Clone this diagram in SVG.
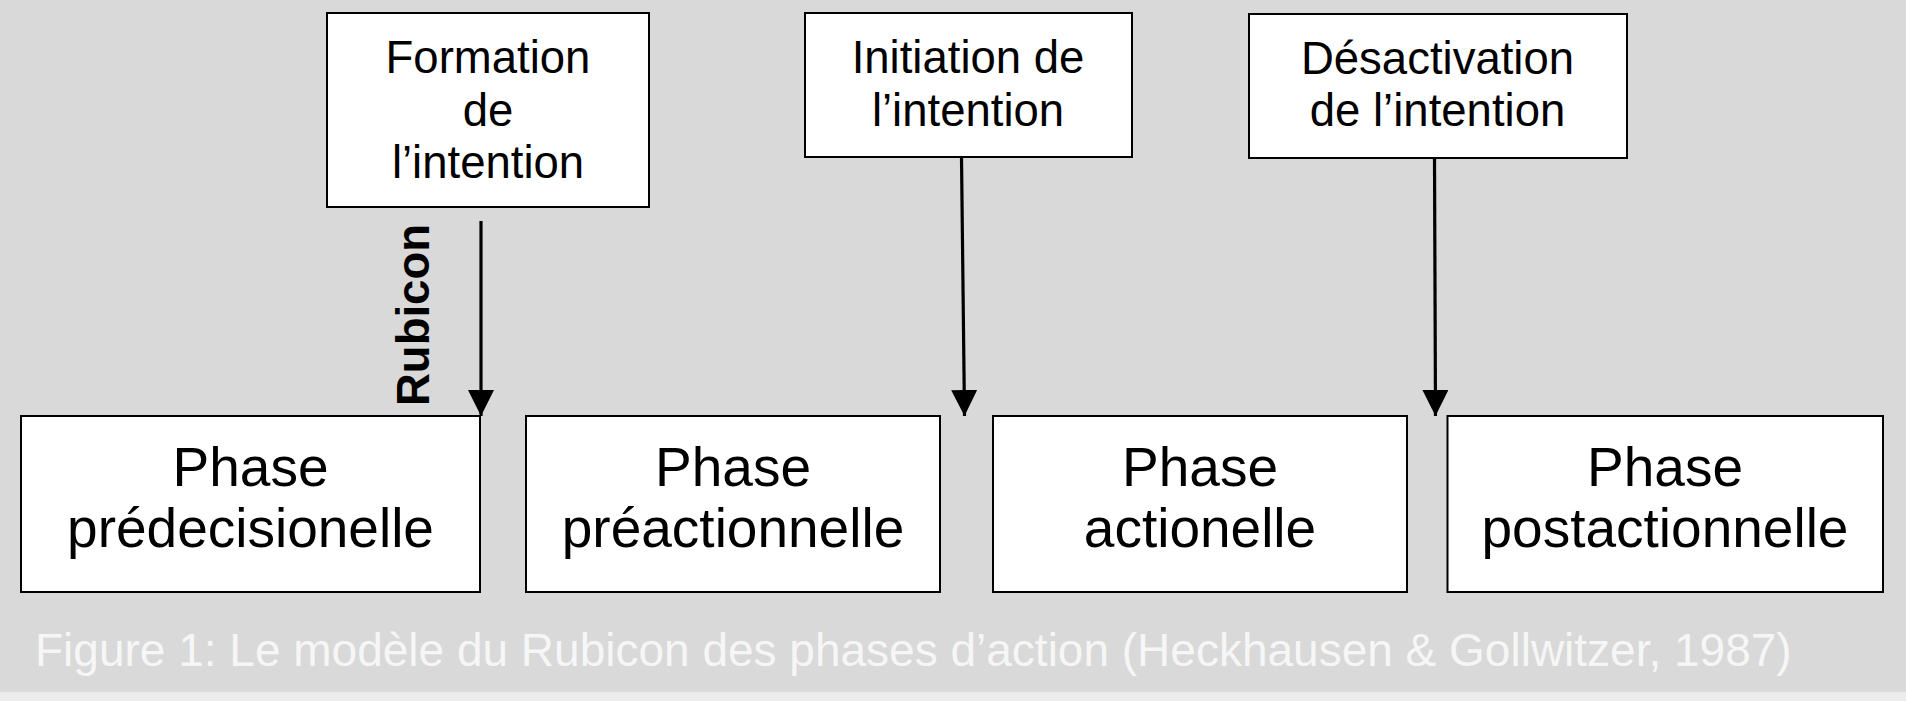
<svg xmlns="http://www.w3.org/2000/svg" width="1906" height="701" viewBox="0 0 1906 701">
<defs>
<style>
.box{fill:#ffffff;stroke:#000000;stroke-width:2}
.t{font-family:"Liberation Sans",Arial,sans-serif;fill:#000000;text-anchor:middle}
.top{font-size:45.5px}
.ph{font-size:55px}
.conn{stroke:#000000;stroke-width:3.2;fill:none;marker-end:url(#ah)}
.cap{font-family:"Liberation Sans",Arial,sans-serif;font-size:46px;fill:#f6f6f6}
.rub{font-family:"Liberation Sans",Arial,sans-serif;font-size:45.5px;font-weight:bold;fill:#000000;text-anchor:middle}
</style>
<marker id="ah" viewBox="0 0 10 10" refX="10" refY="5" markerUnits="userSpaceOnUse" markerWidth="26" markerHeight="26" orient="auto">
<path d="M0,0 L10,5 L0,10 Z" fill="#000000"/>
</marker>
</defs>
<rect x="0" y="0" width="1906" height="701" fill="#ececec"/>
<rect x="0" y="0" width="1906" height="692" fill="#d9d9d9"/>

<g id="formation">
<rect class="box" x="327" y="13" width="322" height="194"/>
<text class="t top" x="488" y="73">Formation</text>
<text class="t top" x="488" y="125.5">de</text>
<text class="t top" x="488" y="178">l’intention</text>
</g>
<g id="initiation">
<rect class="box" x="805" y="13" width="327" height="144"/>
<text class="t top" x="968" y="73">Initiation de</text>
<text class="t top" x="968" y="125.5">l’intention</text>
</g>
<g id="desactivation">
<rect class="box" x="1249" y="14" width="378" height="144"/>
<text class="t top" x="1437.5" y="73.5">Désactivation</text>
<text class="t top" x="1437.5" y="125.5">de l’intention</text>
</g>

<g id="predecisionelle">
<rect class="box" x="21" y="416" width="459" height="176"/>
<text class="t ph" x="250.5" y="486">Phase</text>
<text class="t ph" x="250.5" y="547">prédecisionelle</text>
</g>
<g id="preactionnelle">
<rect class="box" x="526" y="416" width="414" height="176"/>
<text class="t ph" x="733" y="486">Phase</text>
<text class="t ph" x="733" y="547">préactionnelle</text>
</g>
<g id="actionelle">
<rect class="box" x="993" y="416" width="414" height="176"/>
<text class="t ph" x="1200" y="486">Phase</text>
<text class="t ph" x="1200" y="547">actionelle</text>
</g>
<g id="postactionnelle">
<rect class="box" x="1447.5" y="416" width="435.5" height="176"/>
<text class="t ph" x="1665" y="486">Phase</text>
<text class="t ph" x="1665" y="547">postactionnelle</text>
</g>

<g id="connectors">
<line class="conn" x1="481" y1="221" x2="481" y2="416"/>
<line class="conn" x1="961.5" y1="157" x2="964.5" y2="416"/>
<line class="conn" x1="1434.5" y1="158" x2="1435.5" y2="416"/>
<text class="rub" transform="translate(429,315) rotate(-90)">Rubicon</text>
</g>

<text id="caption" class="cap" x="35" y="666">Figure 1: Le modèle du Rubicon des phases d’action (Heckhausen &amp; Gollwitzer, 1987)</text>
</svg>
